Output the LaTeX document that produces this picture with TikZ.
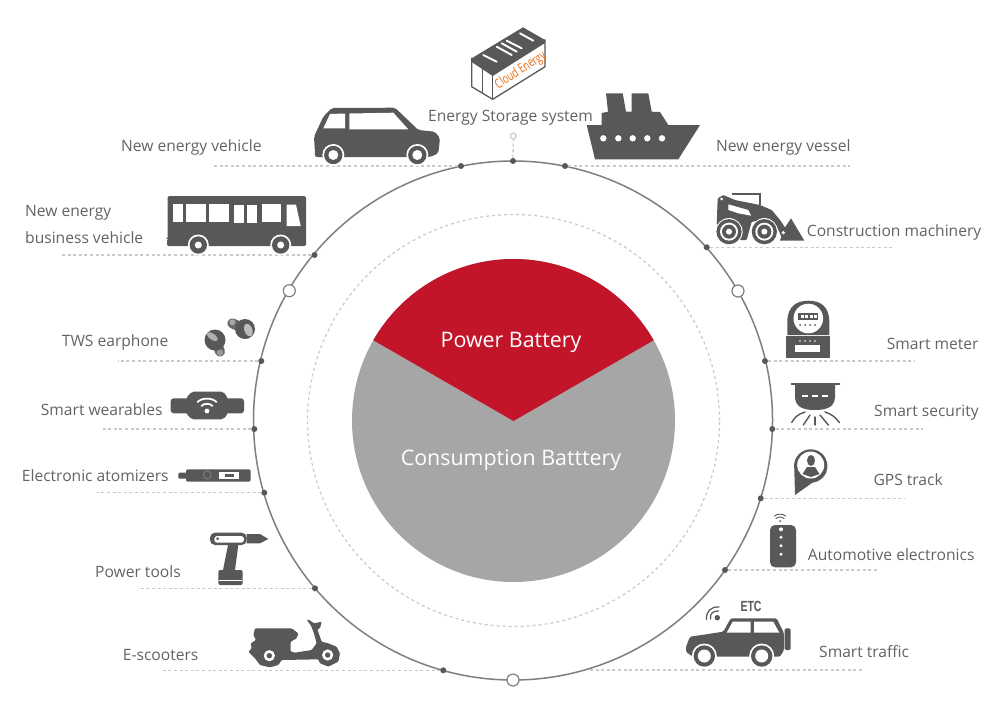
\documentclass[tikz,border=0pt]{standalone}
\usepackage{graphicx}
\usepackage{fontspec}
\setmainfont{Open Sans}
\newfontfamily\etcfont{Liberation Sans}
\definecolor{ink}{HTML}{585858}
\definecolor{txt}{HTML}{636363}
\definecolor{ringc}{HTML}{7F7F7F}
\definecolor{dashc}{HTML}{CACACA}
\definecolor{redc}{HTML}{C2152A}
\definecolor{grayc}{HTML}{A6A6A6}
\definecolor{orangec}{HTML}{EE6A10}
\tikzset{
 lab/.style={anchor=base west,inner sep=0pt,text=txt,font=\fontsize{15.6}{18}\selectfont},
 biglab/.style={inner sep=0pt,text=white},
 soliddot/.style={circle,fill=ink,inner sep=0pt,minimum size=6pt},
 holedot/.style={circle,fill=white,draw=ringc,line width=1.2pt,inner sep=0pt,minimum size=12pt},
 lead/.style={draw=dashc,line width=1.3pt,dash pattern=on 3pt off 2.6pt},
 icon/.style={fill=ink,draw=none},
 hole/.style={fill=white,draw=none},
 wline/.style={draw=white,line cap=round},
 dline/.style={draw=ink,line cap=round},
 zoomed/.style={x=0.33333pt,y=-0.33333pt}
}
\newcommand{\iconwheel}[4]{%
 \fill[white] (#1,#2) circle (#3pt);
 \fill[ink] (#1,#2) circle (#3pt-1.8pt);
 \fill[white] (#1,#2) circle (#4pt);
}
\begin{document}
\begin{tikzpicture}[x=1pt,y=-1pt]
\useasboundingbox (0,0) rectangle (1000,710);
\fill[white] (0,0) rectangle (1000,710);

% central disc
\node[circle,fill=grayc,inner sep=0pt,minimum size=323pt] (disc) at (513.5,420.5) {};
\begin{scope}
 \clip (513.5,421) -- (300,298) -- (300,200) -- (727,200) -- (727,298) -- cycle;
 \fill[redc] (513.5,420.5) circle (161.5pt);
\end{scope}
\node[biglab,font=\fontsize{21.4}{25}\selectfont] (power) at (511,342) {Power Battery};
\node[biglab,font=\fontsize{21.4}{25}\selectfont] (cons) at (511,460.5) {Consumption Batttery};

% rings
\node[circle,draw=dashc,line width=1.2pt,dash pattern=on 3pt off 3pt,inner sep=0pt,minimum size=412pt] (inner) at (513.5,420.5) {};
\node[circle,draw=ringc,line width=1.5pt,inner sep=0pt,minimum size=519pt] (ring) at (513,420.5) {};

% leader free ends
\coordinate (eVeh) at (213,166);
\coordinate (eVes) at (850,166);
\coordinate (eBus) at (60,255);
\coordinate (eCon) at (892,247.3);
\coordinate (eMet) at (915,361);
\coordinate (eSec) at (923,429);
\coordinate (eGps) at (905,498.3);
\coordinate (eAut) at (877,570);
\coordinate (eTraS) at (590,670);
\coordinate (eTraE) at (864,670);
\coordinate (eTws) at (118,361);
\coordinate (eWea) at (103,429);
\coordinate (eAto) at (97,492.7);
\coordinate (eToo) at (138,588.3);
\coordinate (eSco) at (162,670.3);

% dots
\node[soliddot] (dTop) at (513,161) {};
\node[soliddot] (dVeh) at (461,166) {};
\node[soliddot] (dVes) at (565,166) {};
\node[soliddot] (dBus) at (314.5,255) {};
\node[soliddot] (dCon) at (706.7,247.3) {};
\node[soliddot] (dMet) at (765,361) {};
\node[soliddot] (dSec) at (772.3,429) {};
\node[soliddot] (dGps) at (760.7,498.3) {};
\node[soliddot] (dAut) at (725,570) {};
\node[soliddot] (dTws) at (261.3,361) {};
\node[soliddot] (dWea) at (254.3,429) {};
\node[soliddot] (dAto) at (264.3,492.7) {};
\node[soliddot] (dToo) at (315,588.3) {};
\node[soliddot] (dSco) at (443.3,670.3) {};
\node[holedot] (hR) at (738,291) {};
\node[holedot] (hL) at (289.3,290.7) {};
\node[holedot] (hB) at (513,680) {};
\node[circle,fill=white,draw=dashc,line width=1.2pt,inner sep=0pt,minimum size=6pt] (hTop) at (513.3,136) {};

% leaders
\draw[lead] (dTop) -- (hTop);
\draw[lead] (dVeh) -- (eVeh);
\draw[lead] (dVes) -- (eVes);
\draw[lead] (dBus) -- (eBus);
\draw[lead] (dCon) -- (eCon);
\draw[lead] (dMet) -- (eMet);
\draw[lead] (dSec) -- (eSec);
\draw[lead] (dGps) -- (eGps);
\draw[lead] (dAut) -- (eAut);
\draw[lead] (eTraS) -- (eTraE);
\draw[lead] (dTws) -- (eTws);
\draw[lead] (dWea) -- (eWea);
\draw[lead] (dAto) -- (eAto);
\draw[lead] (dToo) -- (eToo);
\draw[lead] (dSco) -- (eSco);

% container
\draw[ink,line width=1.3pt,line join=round,fill=white] (471.7,58.3) -- (471.7,86.7) -- (492.7,99.3) -- (545,66.7) -- (545,40) -- (492.7,72) -- cycle;
\draw[ink,line width=1.2pt] (482.7,66) -- (482.7,93.5);
\draw[ink,line width=1.4pt] (492.7,74) -- (492.7,99.3);
\fill[ink] (471.7,58.3) -- (523,27.3) -- (545,40) -- (545,43) -- (492.7,76) -- (471.7,62) -- cycle;
\foreach \a/\b/\c/\d in {483.3/55/496.7/61.7,496.7/46.7/511.7/55,501.7/43.3/516.7/51.7,506.7/40.7/521.7/48.3,520/33.3/533.3/40.7}
 \draw[wline,line width=1.9pt] (\a,\b) -- (\c,\d);
\node[inner sep=0pt,rotate=33,text=orangec] (cloud) at (520.7,70.5) {\scalebox{0.72}[1]{\fontsize{13}{15}\selectfont Cloud Energy}};

% car
\path[icon,rounded corners=2pt] (315,153.3) -- (314,136.7) -- (323.3,116.7) -- (331.7,108) -- (395,107.7) -- (418.3,130) -- (435,131.7) -- (440,138.3) -- (438.3,153.3) -- (430,157) -- (315,157) -- cycle;
\path[hole] (323.3,128.3) -- (330,114) -- (345,113.5) -- (345,128.3) -- cycle;
\path[hole] (349.3,113.5) -- (393.3,112.7) -- (408.3,129.3) -- (349.3,129.3) -- cycle;
\iconwheel{333.3}{155}{11}{5}
\iconwheel{417.3}{155}{11}{5}

% ship
\path[icon] (606,93.3) -- (622.7,93.3) -- (626,111.7) -- (631.7,111.7) -- (631.7,93.3) -- (648.3,93.3) -- (651.7,111.7) -- (660,112) -- (668.3,125) -- (700,125) -- (678.3,159.3) -- (595,159.3) -- (586.7,125) -- (601.7,125) -- (601.7,113) -- (608,111.7) -- cycle;
\foreach \a in {603.3,618.3,632.7,647.3,662}
 \fill[white] (\a,138.3) circle (3.2pt);

% bus
\path[icon,rounded corners=1.5pt] (167.7,196) -- (306,196) -- (306,246) -- (167,246) -- (167,239) -- (167.7,239) -- cycle;
\foreach \a/\b/\c/\d in {173.3/204/182.7/222,186/204/206/222,208.7/204/229/222,234/204.7/244/222.7,247.3/204.7/257.3/222.7,261.7/204/280.7/222}
 \fill[white] (\a,\b) rectangle (\c,\d);
\path[hole] (286.7,204.7) -- (296,204.7) -- (300.7,226) -- (286.7,226) -- cycle;
\iconwheel{198.3}{245}{10.5}{3.5}
\iconwheel{280.7}{245}{10.5}{3.5}

% loader
\begin{scope}[shift={(705,185)},zoomed]
 \draw[ink,line width=2.2pt] (82,27) -- (165,27) -- (165,60);
 \path[icon,rounded corners=1pt] (38,40) -- (55,30) -- (90,45) -- (165,60) -- (200,75) -- (225,105) -- (245,135) -- (232,160) -- (215,125) -- (200,105) -- (140,110) -- (125,165) -- (105,165) -- (95,105) -- (35,120) -- cycle;
 \path[hole] (70,58) -- (130,75) -- (138,92) -- (100,85) -- (70,75) -- cycle;
 \fill[white] (50,42) circle (1.5pt);
 \path[icon] (235,135) -- (258,100) -- (298,167) -- (225,167) -- cycle;
 \fill[white] (235,143) circle (1.8pt);
 \foreach \a in {72,178}{
  \fill[white] (\a,140) circle (13.6pt);
  \fill[ink] (\a,140) circle (12.6pt);
  \fill[white] (\a,140) circle (9pt);
  \fill[ink] (\a,140) circle (7pt);
  \fill[white] (\a,140) circle (3pt);
 }
\end{scope}

% meter
\path[icon] (787.3,335) -- (787.3,322) .. controls (787.3,306) and (797,300.7) .. (808.3,300.7) .. controls (820,300.7) and (829.3,306) .. (829.3,322) -- (829.3,335) -- cycle;
\fill[white] (808.3,318.5) circle (14.8pt);
\fill[ink] (798.3,312.7) rectangle (818.3,319.7);
\foreach \a in {800.5,805,809.5,814}
 \fill[white] (\a,314.5) rectangle +(3,3);
\foreach \a in {800,805,810,815}
 \fill[ink] (\a,325) circle (1pt);
\path[icon] (786,335.5) rectangle (829.5,358.3);
\fill[white] (795,345) rectangle (820,351.7);
\foreach \a in {800,805,810,815}
 \fill[white] (\a,341) circle (.8pt);

% security
\draw[dline,line width=2pt] (791.7,384) -- (839.3,384);
\path[icon] (795,384) -- (795,398) .. controls (796,408) and (805,410) .. (815,410) .. controls (825,410) and (834,408) .. (835,398) -- (835,384) -- cycle;
\foreach \a in {802,812,822}
 \draw[draw=white,line width=2pt] (\a,396) -- +(6,0);
\draw[dline,line width=1.4pt] (805,412) .. controls (798,414) and (794,418) .. (791.7,422.5);
\draw[dline,line width=1.4pt] (810,415) -- (803.3,425);
\draw[dline,line width=1.4pt] (815,417) -- (815,425);
\draw[dline,line width=1.4pt] (820,415) -- (828.3,425);
\draw[dline,line width=1.4pt] (825,412) .. controls (832,414) and (836,418) .. (839.3,422.5);

% pin
\path[icon] (795,495) -- (794.3,470) -- (826,473) -- cycle;
\fill[ink] (810.7,466) circle (16.7pt);
\fill[white] (810.7,465) circle (13.5pt);
\fill[ink] (811,460.5) ellipse (4pt and 5.5pt);
\path[icon] (802.5,474) -- (807,467) -- (815,467) -- (819.5,474) -- (811,477) -- cycle;

% remote
\path[icon,rounded corners=5pt] (770,525) rectangle (796,567.3);
\foreach \a/\r in {529.3/2,537.3/1.6,545.7/1.6,554.3/1.6}
 \fill[white] (781,\a) circle (\r pt);
\fill[ink] (780,521) circle (1pt);
\draw[dline,line width=.9pt] (776,518.5) .. controls (778,516.5) and (782,516.5) .. (784,518.5);
\draw[dline,line width=.9pt] (774.5,516) .. controls (777,513.5) and (783,513.5) .. (785.5,516);

% jeep
\path[icon,rounded corners=1.5pt] (686,646.7) -- (690,636.7) -- (723.3,631.7) -- (730.7,618.3) -- (776.7,618.3) -- (784,633.3) -- (784,650) -- (780,656.7) -- (693,656.7) -- (686,652) -- cycle;
\path[hole] (726.7,632.7) -- (732.7,621.7) -- (750.7,621.7) -- (750.7,632.7) -- cycle;
\path[hole] (754,621.7) -- (773.3,621.7) -- (779.3,632.7) -- (754,632.7) -- cycle;
\path[icon,rounded corners=2pt] (784.5,628.3) rectangle (790.7,650);
\iconwheel{704.3}{656}{12.5}{6.5}
\iconwheel{761.7}{656}{12.5}{6.5}
\fill[ink] (717.3,617.7) circle (2.7pt);
\draw[dline,line width=1.2pt] (710.5,619) .. controls (710,613) and (713,611) .. (718.5,611);
\draw[dline,line width=1.2pt] (706.5,619.5) .. controls (706,611) and (711,606.5) .. (719,607);
\node[inner sep=0pt,text=ink] (etc) at (751,606.7) {\scalebox{0.75}[1.05]{\etcfont\bfseries\fontsize{14}{16}\selectfont ETC}};

% scooter
\begin{scope}[shift={(240,610)},zoomed]
 \path[icon,rounded corners=1pt] (45,55) -- (155,55) -- (175,70) -- (170,85) -- (152,95) -- (152,125) -- (165,128) -- (215,120) -- (230,100) -- (222,70) -- (212,45) -- (200,30) -- (205,28) -- (222,40) -- (245,35) -- (240,55) -- (232,58) -- (245,95) -- (265,100) -- (290,110) -- (300,130) -- (295,155) -- (265,170) -- (240,160) -- (235,148) -- (125,150) -- (115,165) -- (90,172) -- (60,165) -- (45,145) -- (25,125) -- (35,115) -- (32,100) -- (48,90) -- (40,75) -- cycle;
 \foreach \a/\b in {88/137,263/135}{
  \fill[white] (\a,\b) circle (5.6pt);
  \fill[ink] (\a,\b) circle (2.7pt);
 }
\end{scope}

% drill
\path[icon,rounded corners=5pt] (210,532.7) rectangle (246.7,545);
\path[hole,rounded corners=3pt] (214.3,536) rectangle (244,542.7);
\fill[ink] (217.7,538.7) circle (1.5pt);
\path[icon] (246.7,534) -- (260,534) -- (268.3,539) -- (260,543.3) -- (246.7,543.3) -- cycle;
\path[icon] (228,545) -- (238.3,545) -- (235,570) -- (223,570) -- cycle;
\path[icon,rounded corners=2pt] (218.3,570) rectangle (242.7,585);
\draw[draw=white,line width=1pt] (219,580) -- (242,580);

% wearable
\path[icon,rounded corners=3pt] (170.7,398.3) rectangle (244,413.3);
\path[icon,rounded corners=2pt] (191.7,391.7) -- (223.3,391.7) -- (228,398.3) -- (228,413.3) -- (223.3,419.3) -- (191.7,419.3) -- (186,413.3) -- (186,398.3) -- cycle;
\fill[white] (207,411) circle (2.4pt);
\draw[wline,line width=1.8pt] (201.5,406) .. controls (204,403) and (210,403) .. (212.5,406);
\draw[wline,line width=1.8pt] (197.5,402) .. controls (202,397.5) and (212,397.5) .. (216.5,402);

% atomizer
\path[icon,rounded corners=1pt] (178.3,472.7) rectangle (188,478.7);
\path[icon,rounded corners=2pt] (186,469.3) rectangle (250.7,481.7);
\fill[white] (219.3,471.7) rectangle (239.3,479.3);
\fill[ink] (225,474) rectangle (234,476.7);
\draw[draw=ringc,line width=.9pt] (207.3,475) circle (4pt);

% earphones
\begin{scope}[shift={(195,305)},zoomed]
 \draw[draw=ink!90,line width=10pt,line cap=round] (112,55) -- (135,65);
 \fill[gray!70] (112,52) circle (3pt);
 \fill[ink] (150,72) circle (10pt);
 \fill[grayc!75,rotate around={20:(160,75)}] (160,75) ellipse (4pt and 6.5pt);
 \draw[draw=ink!90,line width=10pt,line cap=round] (66,115) -- (75,140);
 \fill[gray!80] (75,143) circle (3.2pt);
 \fill[ink] (60,105) circle (10.5pt);
 \fill[grayc!90,rotate around={-35:(52,95)}] (52,95) ellipse (6.5pt and 3pt);
\end{scope}

% labels
\node[lab] (l1) at (428,121) {Energy Storage system};
\node[lab] (l2) at (121,151) {New energy vehicle};
\node[lab] (l3) at (716,151) {New energy vessel};
\node[lab] (l4a) at (25,216) {New energy};
\node[lab] (l4b) at (25,243) {business vehicle};
\node[lab] (l5) at (806.7,236) {Construction machinery};
\node[lab] (l6) at (61.7,346.7) {TWS earphone};
\node[lab] (l7) at (886.7,349) {Smart meter};
\node[lab] (l8) at (40.7,415.7) {Smart wearables};
\node[lab] (l9) at (874,416) {Smart security};
\node[lab] (l10) at (21.7,481.7) {Electronic atomizers};
\node[lab] (l11) at (873.3,485.7) {GPS track};
\node[lab] (l12) at (807.7,560) {Automotive electronics};
\node[lab] (l13) at (95,577.7) {Power tools};
\node[lab] (l14) at (122.7,660) {E-scooters};
\node[lab] (l15) at (819,657.7) {Smart traffic};
\end{tikzpicture}
\end{document}
